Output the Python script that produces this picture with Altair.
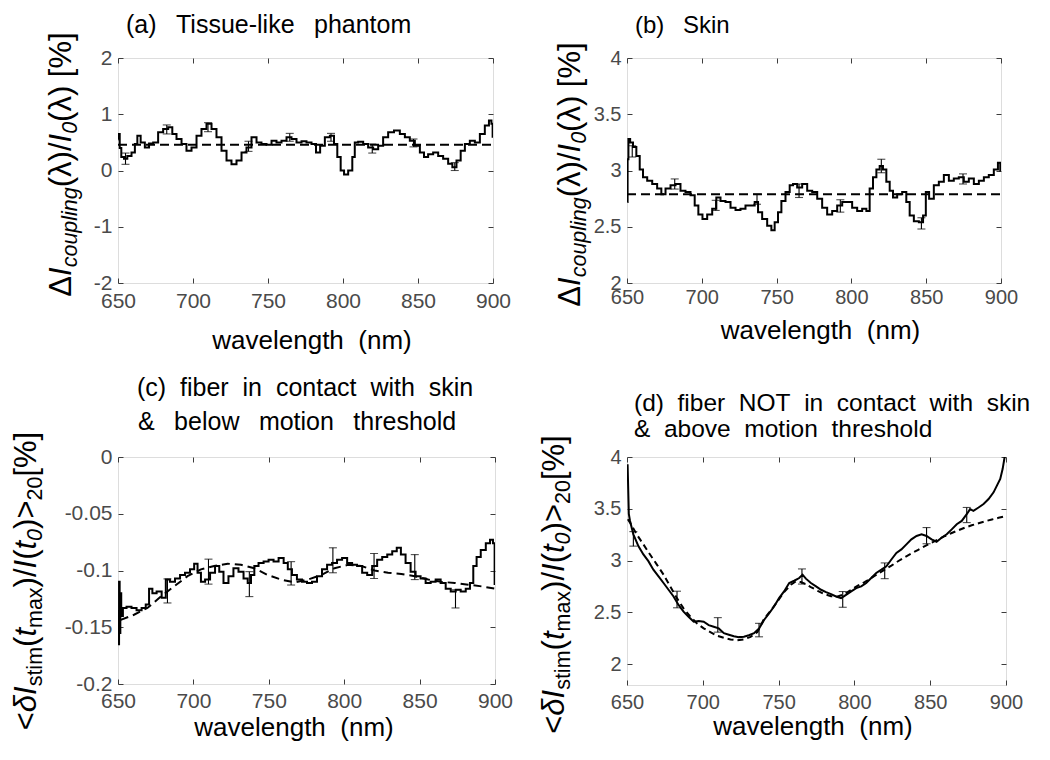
import altair as alt
import pandas as pd

FONT = "Liberation Sans"
INK = "#000000"
FRAME = "#3c3c3c"
LABEL = "#4a4a4a"
NB = "\u00a0"
WS = "\u2002\u00a0"
SP2 = NB + NB

X_TICKS = [650, 700, 750, 800, 850, 900]

# ---------------- panel (a) tissue-like phantom ----------------
a_wl = [650.2, 650.8, 651.5, 652.9, 655.1, 657.3, 660.7, 661.8, 664.0, 666.2,
        669.6, 671.8, 675.1, 678.4, 681.8, 685.1, 687.3, 690.7, 694.0, 697.3,
        700.7, 704.0, 707.3, 710.7, 714.0, 717.3, 720.7, 724.0, 727.3, 730.7,
        734.0, 737.3, 740.7, 744.0, 747.3, 750.7, 754.0, 757.3, 760.7, 764.0,
        767.3, 770.7, 774.0, 777.3, 780.7, 783.3, 786.2, 789.6, 792.9, 795.1,
        797.3, 799.6, 801.8, 805.1, 807.3, 808.4, 811.8, 815.1, 818.4, 821.8,
        825.1, 828.4, 831.8, 836.2, 839.6, 842.9, 846.2, 849.6, 852.9, 855.1,
        858.4, 861.8, 865.1, 868.4, 871.8, 874.0, 877.3, 879.6, 882.9, 886.2,
        889.6, 892.9, 896.2, 898.4, 899.5, 900.0]
a_val = [0.55, 0.65, 0.40, 0.24, 0.21, 0.26, 0.32, 0.47, 0.62, 0.50,
         0.41, 0.48, 0.50, 0.68, 0.74, 0.77, 0.65, 0.56, 0.47, 0.35,
         0.41, 0.62, 0.74, 0.83, 0.74, 0.59, 0.35, 0.18, 0.11, 0.18,
         0.32, 0.41, 0.59, 0.50, 0.47, 0.46, 0.53, 0.50, 0.53, 0.59,
         0.56, 0.50, 0.52, 0.50, 0.47, 0.32, 0.44, 0.59, 0.62, 0.47,
         0.24, 0.00, -0.07, 0.00, 0.24, 0.50, 0.51, 0.47, 0.41, 0.38,
         0.44, 0.59, 0.68, 0.71, 0.65, 0.59, 0.53, 0.44, 0.32, 0.24,
         0.29, 0.32, 0.26, 0.21, 0.12, 0.06, 0.18, 0.35, 0.47, 0.53,
         0.50, 0.65, 0.80, 0.89, 0.83, 0.60]
a_mean_wl = [650, 900]
a_mean_val = [0.46, 0.46]
a_err_wl = [655.0, 682.5, 710.0, 737.0, 764.5, 792.0, 819.5, 847.0, 874.5]
a_err_val = [0.21, 0.73, 0.77, 0.43, 0.59, 0.59, 0.39, 0.49, 0.07]
a_err_sd = [0.10, 0.08, 0.08, 0.09, 0.07, 0.07, 0.08, 0.07, 0.07]
a_yticks = [-2, -1, 0, 1, 2]

# ---------------- panel (b) skin ----------------
b_wl = [650.2, 650.6, 651.3, 652.9, 655.1, 657.4, 659.6, 661.8, 665.2, 668.5,
        671.8, 674.1, 677.4, 680.8, 684.1, 687.4, 690.8, 694.1, 696.4, 699.0,
        701.9, 705.3, 708.6, 710.8, 714.2, 717.5, 720.9, 724.2, 727.5, 730.9,
        734.2, 736.5, 738.7, 742.0, 745.4, 747.6, 749.8, 752.1, 754.3, 757.6,
        759.9, 762.1, 765.4, 768.8, 772.1, 775.5, 778.8, 782.1, 785.5, 788.8,
        792.2, 795.5, 798.8, 802.2, 805.5, 808.9, 811.1, 813.3, 815.6, 817.8,
        820.0, 822.2, 824.5, 826.7, 828.9, 832.3, 835.6, 837.8, 840.1, 843.4,
        846.8, 849.0, 850.5, 853.4, 856.8, 860.1, 863.5, 866.8, 870.1, 873.5,
        876.8, 880.2, 883.5, 886.9, 890.2, 893.5, 896.9, 899.0, 900.0]
b_val = [2.72, 3.10, 3.28, 3.25, 3.21, 3.13, 3.01, 2.94, 2.91, 2.88,
         2.84, 2.79, 2.84, 2.87, 2.88, 2.82, 2.81, 2.78, 2.69, 2.61,
         2.57, 2.61, 2.66, 2.76, 2.73, 2.72, 2.67, 2.65, 2.66, 2.69,
         2.69, 2.72, 2.63, 2.57, 2.51, 2.47, 2.54, 2.63, 2.73, 2.81,
         2.87, 2.88, 2.85, 2.88, 2.82, 2.81, 2.75, 2.67, 2.61, 2.64,
         2.69, 2.72, 2.72, 2.67, 2.64, 2.66, 2.64, 2.84, 2.94, 3.01,
         3.04, 3.01, 2.90, 2.82, 2.76, 2.79, 2.81, 2.72, 2.60, 2.55,
         2.54, 2.60, 2.81, 2.75, 2.87, 2.90, 2.96, 2.91, 2.93, 2.94,
         2.90, 2.93, 2.88, 2.91, 2.94, 2.96, 3.01, 3.07, 3.00]
b_mean_wl = [650, 900]
b_mean_val = [2.79, 2.79]
b_err_wl = [653.5, 681.9, 709.3, 736.9, 765.0, 792.6, 820.0, 846.8, 874.6]
b_err_val = [3.17, 2.88, 2.69, 2.745, 2.82, 2.685, 3.04, 2.53, 2.925]
b_err_sd = [0.05, 0.045, 0.045, 0.045, 0.06, 0.055, 0.06, 0.05, 0.045]
b_yticks = [2, 2.5, 3, 3.5, 4]

# ---------------- panel (c) contact, below threshold ----------------
c_wl = [650.2, 650.5, 650.9, 651.3, 651.8, 652.5, 654.0, 657.3, 660.6, 664.0,
        667.3, 669.5, 671.7, 673.9, 677.3, 680.6, 682.8, 686.1, 689.5, 692.8,
        696.1, 699.4, 701.6, 703.9, 706.1, 709.4, 712.7, 716.0, 718.3, 721.6,
        724.9, 728.2, 731.6, 734.9, 737.1, 739.3, 741.5, 744.9, 748.2, 751.5,
        754.8, 758.2, 761.5, 763.7, 767.0, 770.3, 773.7, 777.0, 780.3, 783.6,
        787.0, 790.3, 793.6, 796.9, 800.3, 803.6, 806.9, 810.2, 813.6, 816.9,
        820.2, 823.5, 826.9, 830.2, 833.5, 836.2, 839.0, 842.4, 845.7, 849.0,
        852.3, 855.7, 859.0, 862.3, 865.6, 869.0, 872.3, 875.6, 878.9, 882.3,
        884.5, 886.7, 888.9, 892.2, 895.6, 897.8, 899.5, 900.0]
c_val = [-0.135, -0.165, -0.110, -0.155, -0.120, -0.140, -0.133, -0.132, -0.133, -0.135,
         -0.133, -0.130, -0.116, -0.120, -0.1185, -0.124, -0.108, -0.110, -0.107, -0.104,
         -0.102, -0.099, -0.094, -0.102, -0.110, -0.108, -0.102, -0.096, -0.101, -0.111,
         -0.105, -0.098, -0.101, -0.107, -0.111, -0.104, -0.096, -0.0935, -0.092, -0.0905,
         -0.092, -0.089, -0.0935, -0.099, -0.104, -0.108, -0.110, -0.111, -0.110, -0.105,
         -0.099, -0.095, -0.0935, -0.0905, -0.089, -0.0935, -0.095, -0.096, -0.102, -0.104,
         -0.096, -0.0905, -0.088, -0.086, -0.083, -0.080, -0.086, -0.0935, -0.101, -0.105,
         -0.107, -0.111, -0.110, -0.108, -0.111, -0.116, -0.1185, -0.117, -0.1185, -0.116,
         -0.111, -0.096, -0.088, -0.082, -0.076, -0.073, -0.076, -0.112]
c_fit_wl = [651.8, 660.6, 669.5, 678.4, 687.2, 696.1, 705.0, 713.8, 722.7, 731.6,
            740.4, 749.3, 758.2, 767.0, 775.9, 784.8, 793.6, 802.5, 811.4, 820.2,
            829.1, 837.9, 846.8, 855.7, 864.5, 873.4, 882.3, 891.1, 900.0]
c_fit_val = [-0.1435, -0.139, -0.133, -0.123, -0.114, -0.105, -0.099, -0.096, -0.094, -0.095,
             -0.098, -0.104, -0.108, -0.1105, -0.108, -0.104, -0.098, -0.095, -0.096, -0.100,
             -0.102, -0.103, -0.105, -0.108, -0.110, -0.111, -0.1125, -0.114, -0.116]
c_err_wl = [682.8, 710.0, 737.1, 764.8, 792.5, 819.8, 846.8, 873.8]
c_err_val = [-0.118, -0.101, -0.112, -0.1025, -0.091, -0.096, -0.097, -0.125]
c_err_sd = [0.0106, 0.011, 0.011, 0.0103, 0.011, 0.011, 0.011, 0.008]
c_yticks = [-0.2, -0.15, -0.1, -0.05, 0]

# ---------------- panel (d) no contact, above threshold ----------------
d_wl = [650.4, 651.2, 652.0, 654.2, 657.5, 660.8, 664.1, 667.4, 670.8, 674.1,
        677.4, 680.7, 684.0, 687.3, 690.6, 694.0, 697.3, 700.6, 703.9, 707.2,
        710.5, 713.9, 717.2, 720.5, 723.8, 727.1, 730.4, 733.8, 737.1, 740.4,
        743.7, 747.0, 750.3, 753.6, 757.0, 760.3, 763.6, 765.8, 768.0, 771.3,
        774.7, 778.0, 781.3, 784.6, 787.9, 791.2, 794.5, 797.9, 801.2, 804.5,
        807.8, 811.1, 814.4, 817.8, 821.1, 824.4, 827.7, 831.0, 834.3, 837.6,
        841.0, 844.3, 847.6, 850.9, 854.2, 857.5, 860.9, 864.2, 867.5, 870.8,
        874.1, 876.3, 878.5, 881.9, 885.2, 888.5, 891.8, 894.0, 896.2, 897.8,
        899.1]
d_val = [3.93, 3.45, 3.383, 3.254, 3.14, 3.06, 2.995, 2.913, 2.848, 2.784,
         2.719, 2.654, 2.573, 2.508, 2.459, 2.41, 2.417, 2.41, 2.378, 2.362,
         2.346, 2.30, 2.285, 2.27, 2.262, 2.265, 2.28, 2.30, 2.345, 2.427,
         2.492, 2.557, 2.638, 2.703, 2.784, 2.806, 2.832, 2.865, 2.826, 2.784,
         2.751, 2.719, 2.696, 2.677, 2.654, 2.638, 2.67, 2.703, 2.735, 2.751,
         2.784, 2.832, 2.881, 2.913, 2.946, 3.011, 3.075, 3.108, 3.157, 3.205,
         3.238, 3.254, 3.238, 3.205, 3.182, 3.221, 3.254, 3.302, 3.351, 3.383,
         3.448, 3.497, 3.481, 3.513, 3.546, 3.594, 3.659, 3.724, 3.789, 3.886,
         4.0]
d_fit_wl = [650.5, 652.0, 656.4, 660.8, 665.2, 669.7, 674.1, 678.5, 682.9, 687.3,
            691.8, 696.2, 700.6, 705.0, 709.5, 713.9, 718.3, 722.7, 727.1, 731.5,
            736.0, 740.4, 744.8, 749.2, 753.6, 758.1, 761.4, 764.7, 768.0, 771.3,
            775.8, 780.2, 784.6, 789.0, 793.4, 797.9, 802.3, 806.7, 811.1, 815.5,
            820.0, 824.4, 828.8, 833.2, 837.6, 842.1, 846.5, 850.9, 855.3, 859.8,
            864.2, 868.6, 873.0, 877.4, 881.9, 886.3, 890.7, 895.1, 899.5]
d_fit_val = [3.40, 3.367, 3.254, 3.157, 3.059, 2.962, 2.865, 2.751, 2.638, 2.54,
             2.459, 2.394, 2.346, 2.31, 2.275, 2.255, 2.24, 2.232, 2.24, 2.265,
             2.31, 2.437, 2.518, 2.605, 2.696, 2.767, 2.80, 2.793, 2.774, 2.745,
             2.709, 2.677, 2.657, 2.654, 2.677, 2.719, 2.758, 2.793, 2.832, 2.874,
             2.913, 2.952, 2.994, 3.033, 3.069, 3.105, 3.14, 3.173, 3.205, 3.238,
             3.267, 3.293, 3.319, 3.341, 3.361, 3.38, 3.397, 3.413, 3.429]
d_err_wl = [654.2, 683.0, 709.9, 737.1, 765.4, 792.3, 820.0, 847.6, 874.1]
d_err_val = [3.21, 2.625, 2.38, 2.33, 2.847, 2.626, 2.902, 3.241, 3.44]
d_err_sd = [0.07, 0.08, 0.07, 0.065, 0.073, 0.076, 0.076, 0.078, 0.073]
d_yticks = [2, 2.5, 3, 3.5, 4]

for xs, ys in [(a_wl, a_val), (b_wl, b_val), (c_wl, c_val), (d_wl, d_val),
               (c_fit_wl, c_fit_val), (d_fit_wl, d_fit_val)]:
    assert len(xs) == len(ys), (len(xs), len(ys))

# ---------------- text helpers ----------------
EM = {" ": 0.278, NB: 0.278, "\u2002": 0.5, "(": 0.333, ")": 0.333, "/": 0.278,
      "[": 0.278, "]": 0.278, "%": 0.889, "<": 0.584, ">": 0.584, "0": 0.556,
      "2": 0.556, "I": 0.278, "a": 0.556, "c": 0.5, "g": 0.556, "i": 0.222,
      "l": 0.222, "m": 0.833, "n": 0.556, "o": 0.556, "p": 0.556, "s": 0.5,
      "t": 0.278, "u": 0.556, "x": 0.5, "\u0394": 0.668, "\u03bb": 0.5, "\u03b4": 0.556}

YT_AB = [("\u0394", "M", False), ("I", "M", True), ("coupling", "S", True),
         ("(\u03bb)/", "M", False), ("I", "M", True), ("0", "S", True),
         ("(\u03bb)" + NB + "[%]", "M", False)]
YT_CD = [("<", "M", False), ("\u03b4", "M", True), ("I", "M", True), ("stim", "S", False),
         ("(", "M", False), ("t", "M", True), ("max", "S", False), (")/", "M", False),
         ("I", "M", True), ("(", "M", False), ("t", "M", True), ("0", "S", True),
         (")>", "M", False), ("20", "S", False), ("\u2002" + NB + "[%]", "M", False)]


def one_text(txt, x, y, size, italic=False, angle=0):
    kw = dict(align="left", baseline="alphabetic", font=FONT, fontSize=size,
              fontStyle="italic" if italic else "normal", color=INK)
    if angle:
        kw["angle"] = angle
    return alt.Chart(pd.DataFrame({"t": [txt]})).mark_text(**kw).encode(
        text="t:N", x=alt.value(x), y=alt.value(y))


def ytitle(segs, bx, cy, big=31, small=21.5, shift=6):
    widths = []
    for txt, kind, _ in segs:
        size = big if kind == "M" else small
        widths.append(sum(EM.get(ch, 0.556) for ch in txt) * size)
    y = cy + sum(widths) / 2
    out = []
    for (txt, kind, ital), w in zip(segs, widths):
        size = big if kind == "M" else small
        x = bx + (shift if kind == "S" else 0)
        out.append(one_text(txt, x, y, size, ital, angle=270))
        y -= w
    return out


def panel(w, h, lwl, lv, fwl, fv, ewl, ev, esd, ydom, yticks, dash, interp,
          titles, tsize, ysegs, ybx, ycy, lab_size, lab_pad, xt_dist, xt_dx):
    line_df = pd.DataFrame({"wl": lwl, "v": lv})
    fit_df = pd.DataFrame({"wl": fwl, "v": fv})
    err_df = pd.DataFrame({"wl": ewl, "v": ev, "sd": esd})
    err_df["lo"] = err_df["v"] - err_df["sd"]
    err_df["hi"] = err_df["v"] + err_df["sd"]

    xs = alt.Scale(domain=[650, 900], nice=False, zero=False)
    ys = alt.Scale(domain=ydom, nice=False, zero=False)
    tick_common = dict(offset=-5, tickSize=5, tickColor=FRAME, tickWidth=1,
                       domain=False, grid=False)
    bottom = alt.Axis(orient="bottom", values=X_TICKS, labelFont=FONT,
                      labelFontSize=lab_size, labelColor=LABEL, labelPadding=lab_pad,
                      labelBaseline="alphabetic", labelFlush=False, labelOverlap=False,
                      title="wavelength" + NB + NB + "(nm)", titleFont=FONT,
                      titleFontSize=26, titleFontWeight="normal", titleColor=INK,
                      titleBaseline="alphabetic", titleAlign="center",
                      titleX=w / 2 + xt_dx, titleY=xt_dist + 5, **tick_common)
    left = alt.Axis(orient="left", values=yticks, format="~g",
                    labelExpr="replace(datum.label, '\u2212', '-')",
                    labelFont=FONT, labelFontSize=lab_size, labelColor=LABEL,
                    labelPadding=6, labelOverlap=False, labelFlush=False,
                    title=None, **tick_common)
    top = alt.Axis(orient="top", values=X_TICKS, labels=False, title=None, **tick_common)
    right = alt.Axis(orient="right", values=yticks, labels=False, title=None, **tick_common)

    fit = alt.Chart(fit_df).mark_line(color=INK, strokeWidth=2, strokeDash=dash, clip=True).encode(
        x=alt.X("wl:Q", scale=xs, axis=top), y=alt.Y("v:Q", scale=ys, axis=right))
    bars = alt.Chart(err_df).mark_rule(color=INK, strokeWidth=1.1).encode(
        x=alt.X("wl:Q", scale=xs, axis=None), y=alt.Y("lo:Q", scale=ys, axis=None), y2="hi:Q")
    cap_lo = alt.Chart(err_df).mark_tick(orient="horizontal", size=8, thickness=1.1, color=INK).encode(
        x=alt.X("wl:Q", scale=xs, axis=None), y=alt.Y("lo:Q", scale=ys, axis=None))
    cap_hi = alt.Chart(err_df).mark_tick(orient="horizontal", size=8, thickness=1.1, color=INK).encode(
        x=alt.X("wl:Q", scale=xs, axis=None), y=alt.Y("hi:Q", scale=ys, axis=None))
    main = alt.Chart(line_df).mark_line(color=INK, strokeWidth=2, clip=True, interpolate=interp).encode(
        x=alt.X("wl:Q", scale=xs, axis=bottom), y=alt.Y("v:Q", scale=ys, axis=left))

    layers = [fit, bars, cap_lo, cap_hi, main]
    for txt, tx, ty in titles:
        layers.append(one_text(txt, tx, ty, tsize))
    layers += ytitle(ysegs, ybx, ycy)
    return alt.layer(*layers).properties(width=w, height=h).resolve_axis(
        x="independent", y="independent")


pa = panel(375, 225, a_wl, a_val, a_mean_wl, a_mean_val, a_err_wl, a_err_val, a_err_sd,
           [-2, 2], a_yticks, [9, 5], "step",
           [("(a)" + WS + "Tissue-like" + WS + "phantom", 8, -25)], 25,
           YT_AB, -47, 106.5, 21, 24, 65, 6)
pb = panel(374, 225, b_wl, b_val, b_mean_wl, b_mean_val, b_err_wl, b_err_val, b_err_sd,
           [2, 4], b_yticks, [9, 5], "step",
           [("(b)" + WS + "Skin", 8, -25)], 24,
           YT_AB, -47, 116.5, 20, 20, 55, 6)
pc = panel(377, 227, c_wl, c_val, c_fit_wl, c_fit_val, c_err_wl, c_err_val, c_err_sd,
           [-0.2, 0], c_yticks, [8, 5], "step",
           [("(c)" + SP2 + "fiber" + SP2 + "in" + SP2 + "contact" + SP2 + "with" + SP2 + "skin", 19, -61),
            ("&" + WS + "below" + WS + "motion" + WS + "threshold", 20, -27)], 25,
           YT_CD, -82, 112, 21, 23, 51, -13)
pd_ = panel(379, 228, d_wl, d_val, d_fit_wl, d_fit_val, d_err_wl, d_err_val, d_err_sd,
            [1.8, 4], d_yticks, [6, 4], "linear",
            [("(d)" + SP2 + "fiber" + SP2 + "NOT" + SP2 + "in" + SP2 + "contact" + SP2 + "with" + SP2 + "skin", 7, -46),
             ("&" + SP2 + "above" + SP2 + "motion" + SP2 + "threshold", 7, -20)], 24.5,
            YT_CD, -63, 115.5, 20, 23, 49, -4)

chart = alt.concat(pa, pb, pc, pd_, columns=2, spacing={"row": 174, "column": 132},
                   bounds="flush").properties(
    padding={"left": 2, "top": 4, "right": 0, "bottom": 4}
).configure_view(stroke=FRAME, strokeWidth=1.2).configure(background="white")

chart.save("out.html", embed_options={"renderer": "svg", "actions": False})
